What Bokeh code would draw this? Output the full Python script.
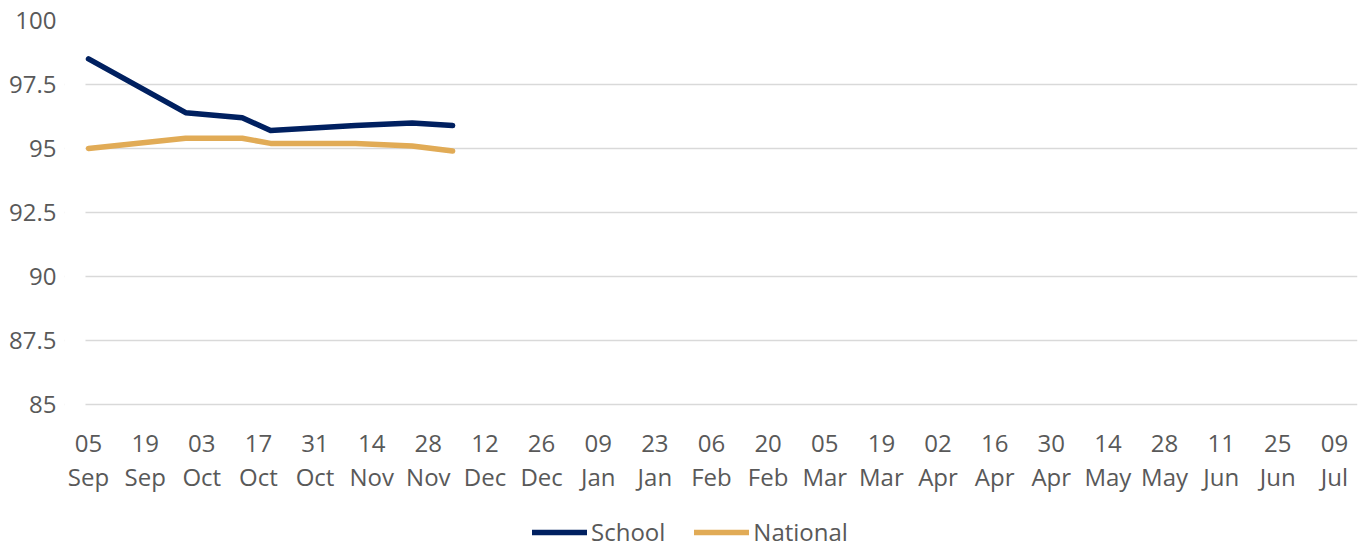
import pandas as pd
from bokeh.plotting import figure
from bokeh.models import Range1d, FixedTicker, Legend, LegendItem, BoxAnnotation
from bokeh.embed import file_html
from bokeh.resources import INLINE

# ---- data ----
start_date = "2023-09-05"
dates = ["2023-09-05", "2023-09-29", "2023-10-13", "2023-10-20",
         "2023-11-10", "2023-11-24", "2023-12-04"]
school = [98.5, 96.4, 96.2, 95.7, 95.9, 96.0, 95.9]
national = [95.0, 95.4, 95.4, 95.2, 95.2, 95.1, 94.9]

tick_dates = ["2023-09-05", "2023-09-19", "2023-10-03", "2023-10-17", "2023-10-31",
              "2023-11-14", "2023-11-28", "2023-12-12", "2023-12-26", "2024-01-09",
              "2024-01-23", "2024-02-06", "2024-02-20", "2024-03-05", "2024-03-19",
              "2024-04-02", "2024-04-16", "2024-04-30", "2024-05-14", "2024-05-28",
              "2024-06-11", "2024-06-25", "2024-07-09"]
tick_labels = ["05\nSep", "19\nSep", "03\nOct", "17\nOct", "31\nOct", "14\nNov",
               "28\nNov", "12\nDec", "26\nDec", "09\nJan", "23\nJan", "06\nFeb",
               "20\nFeb", "05\nMar", "19\nMar", "02\nApr", "16\nApr", "30\nApr",
               "14\nMay", "28\nMay", "11\nJun", "25\nJun", "09\nJul"]
y_ticks = [85, 87.5, 90, 92.5, 95, 97.5, 100]
y_labels = ["85", "87.5", "90", "92.5", "95", "97.5", "100"]

t0 = pd.Timestamp(start_date)
x = [(pd.Timestamp(d) - t0).days for d in dates]
xt = [(pd.Timestamp(d) - t0).days for d in tick_dates]

FONT = "Open Sans"
TXT = "#595959"
GRID_START = -0.75   # where the gridlines begin (days)

# frame extends to the bottom of the canvas; the x axis is pinned at y=85
p = figure(width=1363, height=548, frame_width=1293, frame_height=528,
           output_backend="svg", toolbar_location=None,
           min_border_left=64, min_border_right=6, min_border_top=20, min_border_bottom=0)
p.x_range = Range1d(-5.94, 313.7)
p.y_range = Range1d(79.375, 100)
p.outline_line_color = None
p.background_fill_color = "white"
p.border_fill_color = "white"

r1 = p.line(x, school, line_color="#002060", line_width=5.5, line_join="round", line_cap="round")
r2 = p.line(x, national, line_color="#E1AB56", line_width=5.5, line_join="round", line_cap="round")

p.xaxis.fixed_location = 85
p.xaxis.ticker = FixedTicker(ticks=xt)
p.xaxis.major_label_overrides = {t: l for t, l in zip(xt, tick_labels)}
p.yaxis.ticker = FixedTicker(ticks=y_ticks)
p.yaxis.major_label_overrides = {t: l for t, l in zip(y_ticks, y_labels)}

for ax in (p.xaxis, p.yaxis):
    ax.axis_line_color = None
    ax.major_tick_line_color = None
    ax.minor_tick_line_color = None
    ax.major_label_text_font = FONT
    ax.major_label_text_font_size = "24px"
    ax.major_label_text_color = TXT
p.xaxis.major_label_text_line_height = 1.06
p.xaxis.major_label_standoff = 15
p.yaxis.major_label_standoff = 2

p.xgrid.grid_line_color = None
p.ygrid.grid_line_color = "#d9d9d9"
p.ygrid.grid_line_width = 1.5

# white mask so that the gridlines start where the reference's do
mask = BoxAnnotation(right=GRID_START, fill_color="white", fill_alpha=1.0,
                     line_color=None, level="underlay")
p.add_layout(mask)

legend = Legend(items=[LegendItem(label="School", renderers=[r1]),
                       LegendItem(label="National", renderers=[r2])],
                orientation="horizontal", location=(468, 0),
                padding=0, margin=0, spacing=29, glyph_width=55, glyph_height=22,
                label_standoff=4, label_text_font=FONT, label_text_font_size="24px",
                label_text_color=TXT, background_fill_alpha=0, border_line_color=None)
p.add_layout(legend, "center")

open("out.html", "w").write(file_html(p, INLINE))
